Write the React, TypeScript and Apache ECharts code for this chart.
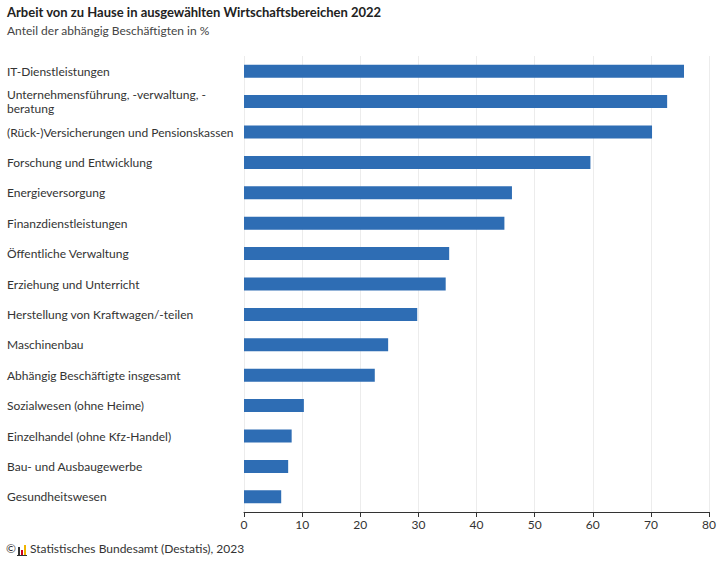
import React, { useEffect, useRef } from "react";
import * as echarts from "echarts";

const categories = [
  "IT-Dienstleistungen",
  "Unternehmensführung, -verwaltung, -beratung",
  "(Rück-)Versicherungen und Pensionskassen",
  "Forschung und Entwicklung",
  "Energieversorgung",
  "Finanzdienstleistungen",
  "Öffentliche Verwaltung",
  "Erziehung und Unterricht",
  "Herstellung von Kraftwagen/-teilen",
  "Maschinenbau",
  "Abhängig Beschäftigte insgesamt",
  "Sozialwesen (ohne Heime)",
  "Einzelhandel (ohne Kfz-Handel)",
  "Bau- und Ausbaugewerbe",
  "Gesundheitswesen",
];
const values = [75.7, 72.8, 70.2, 59.6, 46.1, 44.8, 35.3, 34.7, 29.8, 24.8, 22.5, 10.3, 8.2, 7.6, 6.4];
const xTicks = { min: 0, max: 80, interval: 10 };
const titleText = "Arbeit von zu Hause in ausgewählten Wirtschaftsbereichen 2022";
const subtitleText = "Anteil der abhängig Beschäftigten in %";
const sourceText = "Statistisches Bundesamt (Destatis), 2023";

const FONT = "Lato, 'Noto Sans', sans-serif";

export default function App() {
  const ref = useRef<HTMLDivElement>(null);
  useEffect(() => {
    if (!ref.current) return;
    const chart = echarts.init(ref.current, null, { renderer: "svg" });
    chart.setOption({
      animation: false,
      backgroundColor: "#ffffff",
      textStyle: { fontFamily: FONT },
      title: {
        text: titleText,
        subtext: subtitleText,
        left: 2,
        top: 0,
        itemGap: 6,
        textStyle: { fontFamily: FONT, fontSize: 13, fontWeight: "bold", color: "#222" },
        subtextStyle: { fontFamily: FONT, fontSize: 12, color: "#444" },
      },
      grid: { left: 244, right: 11, top: 56, bottom: 52, containLabel: false },
      xAxis: {
        type: "value",
        min: xTicks.min,
        max: xTicks.max,
        interval: xTicks.interval,
        axisLine: { show: true, lineStyle: { color: "#333", width: 1 } },
        axisTick: { show: true, length: 5, lineStyle: { color: "#333" } },
        axisLabel: { color: "#333", fontSize: 12, margin: 6, fontFamily: FONT },
        splitLine: { show: true, lineStyle: { color: "#ececec", width: 1 } },
      },
      yAxis: {
        type: "category",
        data: categories,
        inverse: true,
        axisLine: { show: false },
        axisTick: { show: false },
        axisLabel: {
          align: "left",
          margin: 237,
          color: "#333",
          fontSize: 12,
          lineHeight: 14,
          fontFamily: FONT,
          formatter: (v: string) =>
            v === "Unternehmensführung, -verwaltung, -beratung"
              ? "Unternehmensführung, -verwaltung, -\nberatung"
              : v,
        },
      },
      series: [
        {
          type: "bar",
          data: values,
          barWidth: 13,
          itemStyle: { color: "#2e6db4" },
        },
      ],
      graphic: [
        {
          type: "text",
          left: 6,
          top: 542,
          style: { text: "©", fontSize: 12, fill: "#333", fontFamily: FONT },
        },
        { type: "rect", shape: { x: 18, y: 547, width: 2, height: 8 }, style: { fill: "#333" } },
        { type: "rect", shape: { x: 21, y: 550, width: 2, height: 5 }, style: { fill: "#d0021b" } },
        { type: "rect", shape: { x: 24, y: 545, width: 2, height: 10 }, style: { fill: "#f0b400" } },
        { type: "rect", shape: { x: 17, y: 555, width: 10, height: 1 }, style: { fill: "#333" } },
        {
          type: "text",
          left: 30,
          top: 542,
          style: { text: sourceText, fontSize: 12, fill: "#333", fontFamily: FONT },
        },
      ],
    });
    return () => chart.dispose();
  }, []);
  return (
    <div
      ref={ref}
      style={{ position: "fixed", left: 0, top: 0, width: 720, height: 564 }}
    />
  );
}
